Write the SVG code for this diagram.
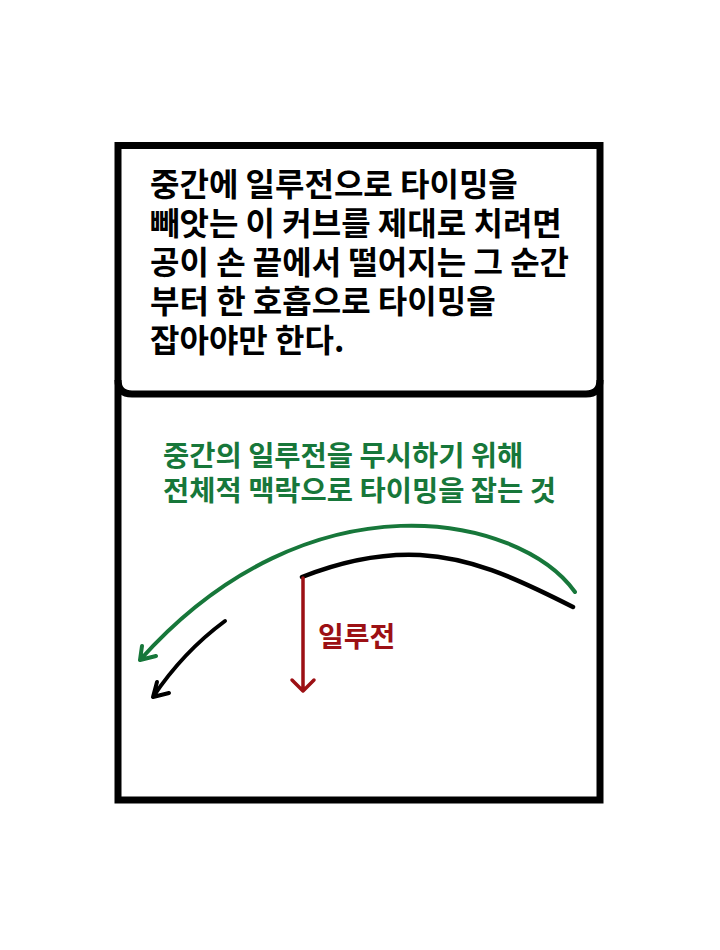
<svg xmlns="http://www.w3.org/2000/svg" width="720" height="950" viewBox="0 0 720 950">
<style>
.t{font-family:"Noto Sans CJK KR","Noto Sans",sans-serif;font-weight:700;}
.main{font-size:32px;fill:#000;}
.green{font-size:28.5px;fill:#17773a;}
.red{font-size:28px;fill:#9c1014;}
.ln{fill:none;stroke-linecap:round;stroke-linejoin:round;}
</style>
<rect width="720" height="950" fill="#fff"/>
<g id="frame">
<rect x="118" y="145.5" width="482" height="654.5" fill="none" stroke="#000" stroke-width="7"/>
<path d="M118,380 Q118,394 132,394 L586,394 Q600,394 600,380" fill="none" stroke="#000" stroke-width="7"/>
</g>
<g id="caption">
<text class="t main" x="150" y="196">중간에 일루전으로 타이밍을</text>
<text class="t main" x="150" y="235">빼앗는 이 커브를 제대로 치려면</text>
<text class="t main" x="150" y="274">공이 손 끝에서 떨어지는 그 순간</text>
<text class="t main" x="150" y="313">부터 한 호흡으로 타이밍을</text>
<text class="t main" x="150" y="352">잡아야만 한다.</text>
</g>
<g id="label-green">
<text class="t green" x="163" y="466">중간의 일루전을 무시하기 위해</text>
<text class="t green" x="163" y="501">전체적 맥락으로 타이밍을 잡는 것</text>
</g>
<g id="label-red">
<text class="t red" x="318" y="647">일루전</text>
</g>
<g id="connectors">
<path class="ln" d="M575,592 C520,515 310,470 140,660 M142,646 L140,660 L156,656" stroke="#17773a" stroke-width="4"/>
<path class="ln" d="M302,577 C340,562 380,553 420,555 C470,558 510,575 573,607" stroke="#000" stroke-width="4.5"/>
<path class="ln" d="M225,621 Q183,652 153,697 M157,682 L153,697 L169,693" stroke="#000" stroke-width="4"/>
<path class="ln" d="M303,578 L303,691 M292,680 L303,691 L314,680" stroke="#9c1014" stroke-width="3.5"/>
</g>
</svg>
